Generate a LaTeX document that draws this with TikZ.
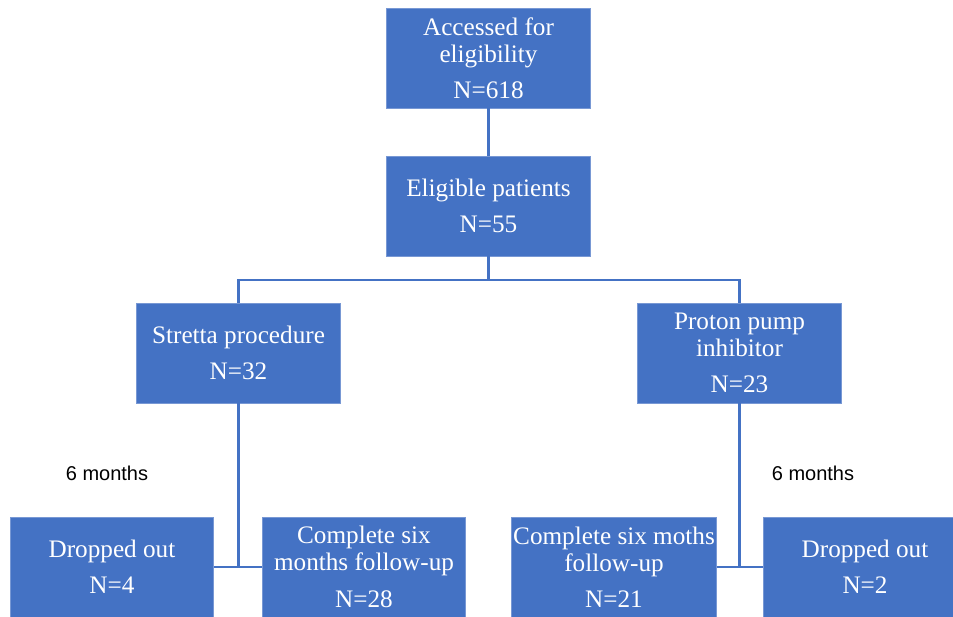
\documentclass[tikz,border=0pt]{standalone}
\usepackage{fontspec}
\setmainfont{Liberation Serif}
\setsansfont{Liberation Sans}
\usepackage{tikz}
\usetikzlibrary{positioning,calc}
\definecolor{boxblue}{RGB}{68,114,196}
\definecolor{boxedge}{RGB}{120,152,212}

\begin{document}
\begin{tikzpicture}[x=0.75pt, y=-0.75pt,
      box/.style={draw=boxedge, line width=0.6pt, fill=boxblue, text=white,
                  minimum width=152.5pt, minimum height=75pt, inner sep=1pt,
                  align=center, font=\fontsize{18.9}{20.3}\selectfont},
      link/.style={draw=boxblue, line width=1.6pt},
      t/.style={font=\sffamily\fontsize{15}{18}\selectfont, text=black}]
    \clip (0,0) rectangle (953,617);
    \node[box] (acc) at (488.5,58) {Accessed for\\ eligibility\\[7pt] N=618};
    \node[box] (elig) at (488.5,206) {Eligible patients\\[7pt] N=55};
    \node[box] (stret) at (238.5,353) {Stretta procedure\\[7pt] N=32};
    \node[box] (ppi) at (739.5,353) {Proton pump\\ inhibitor\\[7pt] N=23};
    \node[box] (dropL) at (112,567) {Dropped out\\[7pt] N=4};
    \node[box] (compL) at (364,567) {Complete six\\ months follow-up\\[7pt] N=28};
    \node[box] (compR) at (614,567) {Complete six moths\\ follow-up\\[7pt] N=21};
    \node[box] (dropR) at (865,567) {Dropped out\\[7pt] N=2};
    \node[t] (sixL) at (107,473) {6 months};
    \node[t] (sixR) at (813,473) {6 months};
    \coordinate (split) at (488.5,280);
    \draw[link] (acc.south) -- (elig.north);
    \draw[link] (elig.south) -- (split);
    \draw[link] (stret.north) |- (split) -| (ppi.north);
    \draw[link] (stret.south) -- (stret.south |- dropL.east);
    \draw[link] (dropL.east) -- (compL.west);
    \draw[link] (ppi.south) -- (ppi.south |- compR.east);
    \draw[link] (compR.east) -- (dropR.west);
  \end{tikzpicture}
\end{document}
